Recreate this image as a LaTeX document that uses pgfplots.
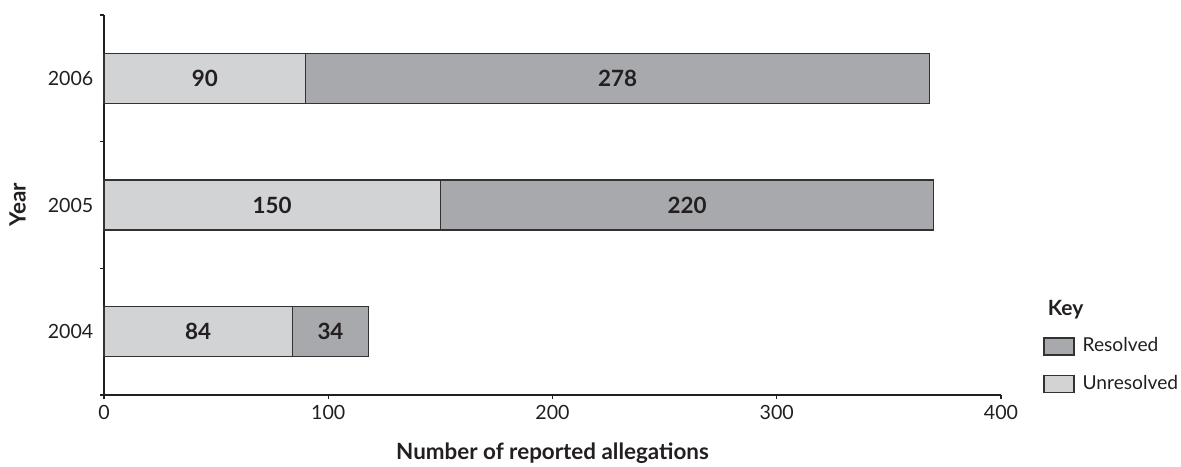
\documentclass[border=0pt]{standalone}
\usepackage{fontspec}
\setmainfont{Lato}
\usepackage{pgfplots}
\pgfplotsset{compat=1.18}
\definecolor{unres}{RGB}{209,211,212}
\definecolor{res}{RGB}{167,169,172}
\definecolor{edge}{RGB}{50,50,50}
\definecolor{ink}{RGB}{35,31,32}
\newcommand\bigb{\fontsize{11.2}{13}\selectfont\bfseries}
\newcommand\tickf{\fontsize{9.8}{11}\selectfont}
\pgfplotsset{mybox/.style={legend image code/.code={\draw[##1] (0pt,-4.25pt) rectangle (15pt,4.25pt);}}}
\begin{document}
\fontsize{9.5}{11}\selectfont
\begin{tikzpicture}[font=\fontsize{9.5}{11}\selectfont]
\useasboundingbox (0,0) rectangle (590.5pt,233pt);
\begin{axis}[
  at={(52pt,35.5pt)}, anchor=south west,
  scale only axis, width=448.5pt, height=190pt,
  xbar stacked, bar width=25pt,
  xmin=0, xmax=400, ymin=0, ymax=3,
  axis lines*=left,
  axis line style={-, line width=1pt, ink},
  clip=false,
  xtick={0,100,200,300,400},
  ytick={0,1,2,3}, yticklabels={},
  extra y ticks={0.5,1.5,2.5},
  extra y tick labels={2004,2005,2006},
  extra y tick style={major tick length=0pt, yticklabel style={xshift=-2pt, font=\tickf, text=ink}},
  tick align=outside, major tick length=2pt,
  tick style={line width=0.6pt, ink},
  ticklabel style={text=ink, font=\tickf},
  /pgf/number format/assume math mode=true,
  xlabel={Number of reported allegations},
  xlabel style={at={(axis description cs:0.5,-0.171)}, anchor=base, text=ink, font=\bigb},
  ylabel={Year},
  ylabel style={at={(axis description cs:-0.0964,0.5)}, anchor=center, text=ink, font=\bigb},
  legend style={at={(1.0468,0.154)}, anchor=north west, draw=none, fill=none,
    inner sep=0pt, column sep=4pt, row sep=9pt,
    nodes={inner sep=0pt, text height=7.5pt, text depth=2.2pt, anchor=west, text=ink,
      font=\fontsize{9.6}{12}\selectfont}},
  legend cell align=left,
  reverse legend,
  visualization depends on=rawx \as \myval,
  nodes near coords={\pgfmathprintnumber{\myval}},
  every node near coord/.style={anchor=center, text=ink, font=\bigb},
]
\addplot[fill=unres, draw=edge, line width=0.6pt, mybox]
  coordinates {(84,0.5) (150,1.5) (90,2.5)};
\addlegendentry{Unresolved}
\addplot[fill=res, draw=edge, line width=0.6pt, mybox]
  coordinates {(34,0.5) (220,1.5) (278,2.5)};
\addlegendentry{Resolved}
\node[anchor=base west, font=\fontsize{10.5}{12}\selectfont\bfseries, text=ink] at (rel axis cs:1.0446,0.2105) {Key};
\end{axis}
\end{tikzpicture}
\end{document}
